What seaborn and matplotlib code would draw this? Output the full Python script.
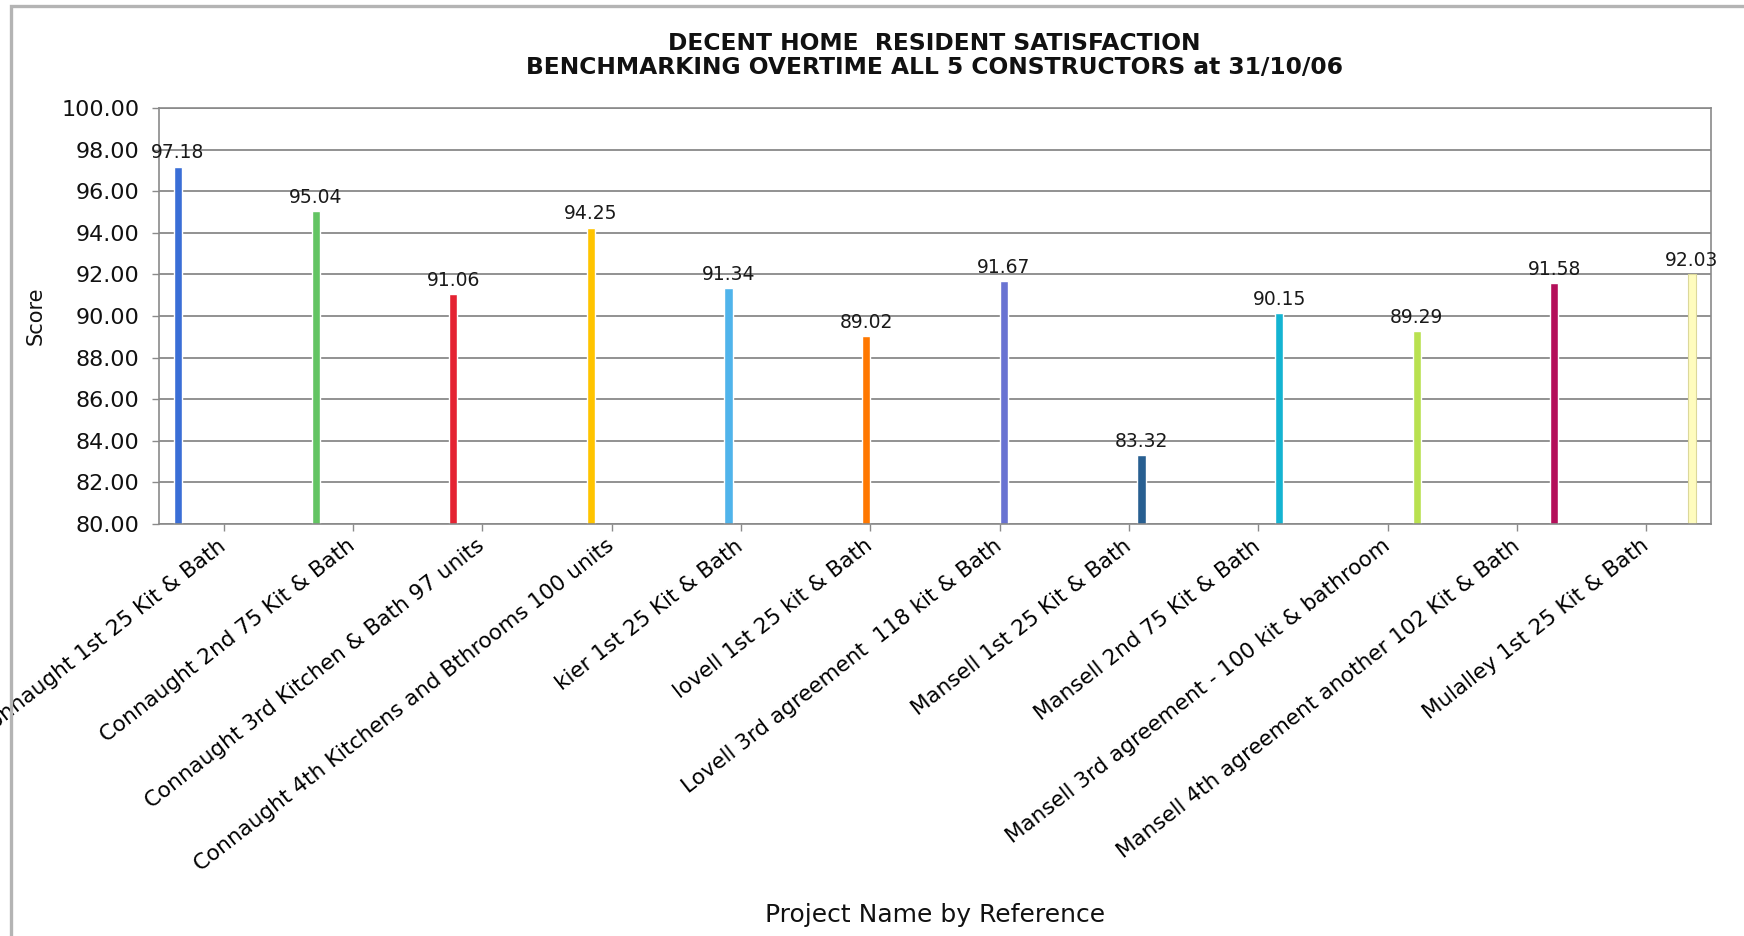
import numpy as np
import pandas as pd
import matplotlib
matplotlib.use("Agg")
import matplotlib.pyplot as plt
import seaborn as sns
from matplotlib.patches import Rectangle
from matplotlib.ticker import FormatStrFormatter

# ---- data ----
projects = [
    "Connaught 1st 25 Kit & Bath",
    "Connaught 2nd 75 Kit & Bath",
    "Connaught 3rd Kitchen & Bath 97 units",
    "Connaught 4th Kitchens and Bthrooms 100 units",
    "kier 1st 25 Kit & Bath",
    "lovell 1st 25 kit & Bath",
    "Lovell 3rd agreement  118 kit & Bath",
    "Mansell 1st 25 Kit & Bath",
    "Mansell 2nd 75 Kit & Bath",
    "Mansell 3rd agreement - 100 kit & bathroom",
    "Mansell 4th agreement another 102 Kit & Bath",
    "Mulalley 1st 25 Kit & Bath",
]
scores = [97.18, 95.04, 91.06, 94.25, 91.34, 89.02, 91.67, 83.32, 90.15, 89.29, 91.58, 92.03]
bar_colors = ["#3a6ed6", "#63c463", "#e42332", "#ffc400", "#50b4eb", "#ff7800",
              "#6973d2", "#285f91", "#14b4d2", "#b9e150", "#b40f5a", "#fffcbe"]
title_line1 = "DECENT HOME  RESIDENT SATISFACTION"
title_line2 = "BENCHMARKING OVERTIME ALL 5 CONSTRUCTORS at 31/10/06"
y_label = "Score"
x_label = "Project Name by Reference"
y_ticks = [80, 82, 84, 86, 88, 90, 92, 94, 96, 98, 100]

df = pd.DataFrame({"Project": projects, "Score": scores})

sns.set_theme(style="white")
plt.rcParams["font.family"] = ["DejaVu Sans"]

W, H = 1744, 936
fig = plt.figure(figsize=(W / 100, H / 100), dpi=100)
ax = fig.add_axes([159 / W, 1 - 524 / H, (1711 - 159) / W, (524 - 108) / H])

sns.barplot(data=df, x="Project", y="Score", hue="Project", order=projects,
            hue_order=projects, palette=bar_colors, dodge=True, width=0.77,
            saturation=1, legend=False, errorbar=None, ax=ax)

# pale last bar gets a faint outline
for p in ax.patches:
    fc = p.get_facecolor()
    if fc[0] > 0.95 and fc[1] > 0.95 and fc[2] > 0.7:
        p.set_edgecolor("#dcd89a")
        p.set_linewidth(0.8)

for cont in ax.containers:
    ax.bar_label(cont, fmt="%.2f", padding=3, fontsize=13.5, color="#1a1a1a")

ax.set_ylim(80, 100)
ax.set_yticks(y_ticks)
ax.yaxis.set_major_formatter(FormatStrFormatter("%.2f"))
ax.set_xlim(-0.5, len(projects) - 0.5)
ax.set_xticks(range(len(projects)))
ax.set_xticklabels(projects, rotation=38, ha="right", va="center",
                   rotation_mode="anchor", fontsize=15.5, color="#000000")

ax.yaxis.grid(True, color="#7f7f7f", linewidth=1.2)
ax.xaxis.grid(False)
ax.set_axisbelow(True)
for s in ax.spines.values():
    s.set_visible(True)
    s.set_color("#8a8a8a")
    s.set_linewidth(1.2)

ax.tick_params(axis="both", direction="out", length=5, width=1, color="#8a8a8a",
               bottom=True, left=True)
ax.tick_params(axis="y", labelsize=16, pad=9, labelcolor="#111111")
ax.tick_params(axis="x", pad=9)

ax.set_ylabel(y_label, fontsize=15, color="#111111")
ax.yaxis.set_label_coords(-0.073, 0.5)
ax.set_xlabel(x_label, fontsize=18, color="#111111")
ax.xaxis.set_label_coords(0.5, -0.91)

fig.text(934 / W, 1 - 44 / H, title_line1, ha="center", va="center",
         fontsize=16.8, fontweight="bold", color="#111111")
fig.text(934 / W, 1 - 67 / H, title_line2, ha="center", va="center",
         fontsize=16.8, fontweight="bold", color="#111111")

# outer chart frame (top and left edges visible)
fig.patches.append(Rectangle((11 / W, -0.1), 1.2, 1.1 - 6 / H, transform=fig.transFigure,
                             fill=False, edgecolor="#b4b4b4", linewidth=2.4, zorder=0))

fig.savefig("out.png", dpi=100)
